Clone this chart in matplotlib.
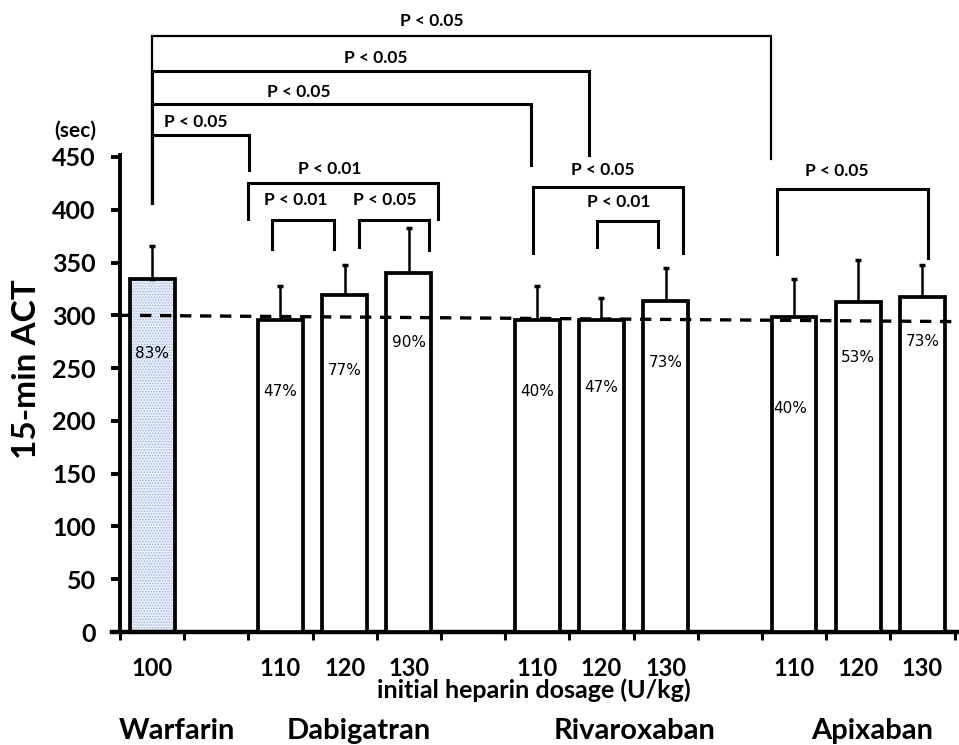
import numpy as np
import matplotlib
matplotlib.use("Agg")
import matplotlib.pyplot as plt

plt.rcParams['font.family'] = ['Lato', 'DejaVu Sans']
plt.rcParams['hatch.linewidth'] = 0.6

# bar data
drugs = ['Warfarin', 'Dabigatran', 'Rivaroxaban', 'Apixaban']
dose_labels = ['100', '110', '120', '130', '110', '120', '130', '110', '120', '130']
slots = [0, 2, 3, 4, 6, 7, 8, 10, 11, 12]
act_mean = [334, 296, 319, 340, 296, 296, 314, 298, 313, 317]
act_sd = [32, 32, 29, 43, 32, 20, 31, 36, 39, 31]
pct_labels = ['83%', '47%', '77%', '90%', '40%', '47%', '73%', '40%', '53%', '73%']
pct_y = [264, 228, 248, 274, 228, 232, 255, 212, 260, 275]
ref_start, ref_end = 300, 294

# significance brackets: x_left, x_right, y_top, y_left_end, y_right_end, label, label_x, label_y
brackets = [
    (0.50, 10.14, 565, 406, 448, 'P < 0.05', 4.86, 579),
    (0.50, 7.31, 531, 406, 452, 'P < 0.05', 3.99, 544),
    (0.50, 6.40, 500, 406, 442, 'P < 0.05', 2.79, 512),
    (0.50, 2.01, 471, 406, 438, 'P < 0.05', 1.18, 483),
    (1.99, 4.95, 425, 391, 391, 'P < 0.01', 3.26, 439),
    (2.37, 3.33, 390, 363, 363, 'P < 0.01', 2.74, 409),
    (3.72, 4.81, 390, 365, 362, 'P < 0.05', 4.13, 409),
    (6.43, 8.77, 422, 359, 359, 'P < 0.05', 7.52, 438),
    (7.43, 8.38, 389, 365, 365, 'P < 0.01', 7.77, 407),
    (10.23, 12.59, 420, 358, 354, 'P < 0.05', 11.17, 437),
]
drug_x = [0.89, 3.72, 8.02, 11.71]

fig = plt.figure(figsize=(9.59, 7.45), dpi=100)
ax = fig.add_axes([110 / 959, 113 / 745, 849 / 959, 632 / 745])
ax.set_xlim(-0.156, 13.07)
ax.set_ylim(0, 598.7)

x = np.array(slots) + 0.5
width = 0.7

# warfarin bar dotted blue fill
ax.bar(x[0], act_mean[0], width, color='#e6edf8', edgecolor='#9ab4dc',
       hatch='......', linewidth=0, zorder=2)
face = ['none'] + ['white'] * (len(x) - 1)
ax.bar(x, act_mean, width, color=face, edgecolor='black', linewidth=2.7, zorder=3)
ax.errorbar(x, act_mean, yerr=[np.zeros(len(x)), act_sd], fmt='none',
            ecolor='black', elinewidth=1.8, capsize=2.5, capthick=2.5, zorder=2)

for xi, t, yy in zip(x, pct_labels, pct_y):
    dx = -0.06 if t == '40%' and xi > 10 else 0
    ax.text(xi + dx, yy, t, ha='center', va='center', fontsize=11,
            family='DejaVu Sans', zorder=5)

ax.plot([0, 13.07], [ref_start, ref_end], color='black', lw=2.4,
        dashes=(3.4, 2.6), zorder=4, clip_on=False)

for x1, x2, yt, yl, yr, lab, lx, ly in brackets:
    lw = 1.6 if yt > 560 else 2.2
    ax.plot([x1, x1, x2, x2], [yl, yt, yt, yr], color='black', lw=lw,
            solid_joinstyle='miter', clip_on=False, zorder=4)
    ax.text(lx, ly, lab, ha='center', va='center', fontsize=12.5,
            fontweight='bold')

# axes styling
for s in ['top', 'right']:
    ax.spines[s].set_visible(False)
ax.spines['left'].set_position(('data', 0))
ax.spines['left'].set_bounds(0, 452)
ax.spines['left'].set_linewidth(2.8)
ax.spines['bottom'].set_bounds(-0.12, 13.04)
ax.spines['bottom'].set_linewidth(3.2)
ax.set_yticks(range(0, 451, 50))
ax.set_xticks(range(0, 14))
ax.set_xticklabels([])
ax.tick_params(axis='y', length=6.5, width=2.8, pad=11, labelsize=18)
ax.tick_params(axis='x', length=5.5, width=2.2)
for lbl in ax.get_yticklabels():
    lbl.set_fontweight('bold')

xt = ax.get_xaxis_transform()
for xi, d in zip(x, dose_labels):
    ax.text(xi, -0.0696, d, transform=xt, ha='center', va='baseline',
            fontsize=17, fontweight='bold')
ax.text(6.45, -0.105, 'initial heparin dosage (U/kg)', transform=xt,
        ha='center', va='baseline', fontsize=18, fontweight='bold')
for dx, name in zip(drug_x, drugs):
    ax.text(dx, -0.169, name, transform=xt, ha='center', va='baseline',
            fontsize=21, fontweight='bold')

fig.text(75 / 959, 1 - 131 / 745, '(sec)', ha='center', va='center',
         fontsize=15, fontweight='bold')
fig.text(27 / 959, 1 - 369 / 745, '15-min ACT', ha='center', va='center',
         rotation=90, fontsize=24, fontweight='bold')

fig.savefig('out.png', dpi=100)
